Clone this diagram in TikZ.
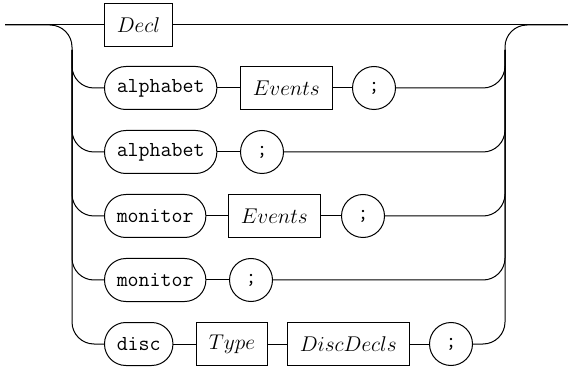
\documentclass[tikz,border=0pt]{standalone}
\usepackage{fix-cm}
\tikzset{every picture/.style={line width=0.75pt}}
\newcommand{\railfont}{\fontsize{16}{19}\selectfont}
\newcommand{\tokfont}{\fontencoding{OT1}\fontfamily{cmtt}\fontsize{16}{19}\selectfont}
\tikzset{
  nonterm/.style={draw, rectangle, minimum height=32.25pt, inner xsep=9.2pt, inner ysep=0pt, anchor=west, font=\railfont},
  term/.style={draw, rectangle, rounded corners=16pt, minimum height=32.25pt, inner xsep=9.2pt, inner ysep=0pt, anchor=west, font=\tokfont},
  punct/.style={draw, circle, minimum size=32.25pt, inner sep=0pt, anchor=west, font=\tokfont},
  rail/.style={rounded corners=16.5pt}
}

\begin{document}
\begin{tikzpicture}[x=0.75pt,y=0.75pt,yscale=-1,xscale=1]
    \useasboundingbox (0,0) rectangle (568,367);
    % rails
    \coordinate (start) at (5,25);
    \coordinate (end) at (568,25);
    \coordinate (lrail) at (72,25);
    \coordinate (ltop) at (72,50);
    \coordinate (rrail) at (505,25);
    \coordinate (rtop) at (505,50);
    % row 1
    \node [nonterm] (decl) at (104,25) {$Decl$};
    % row 2
    \node [term] (alpha1) at (104,88) {alphabet};
    \node [nonterm] (events1) at (240,88) {$Events$};
    \node [punct] (semi1) at (352,88) {;};
    % row 3
    \node [term] (alpha2) at (104,152) {alphabet};
    \node [punct] (semi2) at (240,152) {;};
    % row 4
    \node [term] (mon1) at (104,216) {monitor};
    \node [nonterm] (events2) at (228,216) {$Events$};
    \node [punct] (semi3) at (341,216) {;};
    % row 5
    \node [term] (mon2) at (104,280) {monitor};
    \node [punct] (semi4) at (229,280) {;};
    % row 6
    \node [term] (disc) at (104,344) {disc};
    \node [nonterm] (type) at (196,344) {$Type$};
    \node [nonterm] (decls) at (287,344) {$DiscDecls$};
    \node [punct] (semi5) at (429,344) {;};
    % main line
    \draw (start) -- (decl);
    \draw (decl) -- (end);
    \draw [rail] (start) -- (lrail) |- (disc);
    \draw [rail] (semi5) -| (rrail) -- (end);
    % branches in
    \draw [rail] (ltop) |- (alpha1);
    \draw [rail] (ltop) |- (alpha2);
    \draw [rail] (ltop) |- (mon1);
    \draw [rail] (ltop) |- (mon2);
    % branches out
    \draw [rail] (semi1) -| (rtop);
    \draw [rail] (semi2) -| (rtop);
    \draw [rail] (semi3) -| (rtop);
    \draw [rail] (semi4) -| (rtop);
    % sequences
    \draw (alpha1) -- (events1);
    \draw (events1) -- (semi1);
    \draw (alpha2) -- (semi2);
    \draw (mon1) -- (events2);
    \draw (events2) -- (semi3);
    \draw (mon2) -- (semi4);
    \draw (disc) -- (type);
    \draw (type) -- (decls);
    \draw (decls) -- (semi5);
\end{tikzpicture}
\end{document}
